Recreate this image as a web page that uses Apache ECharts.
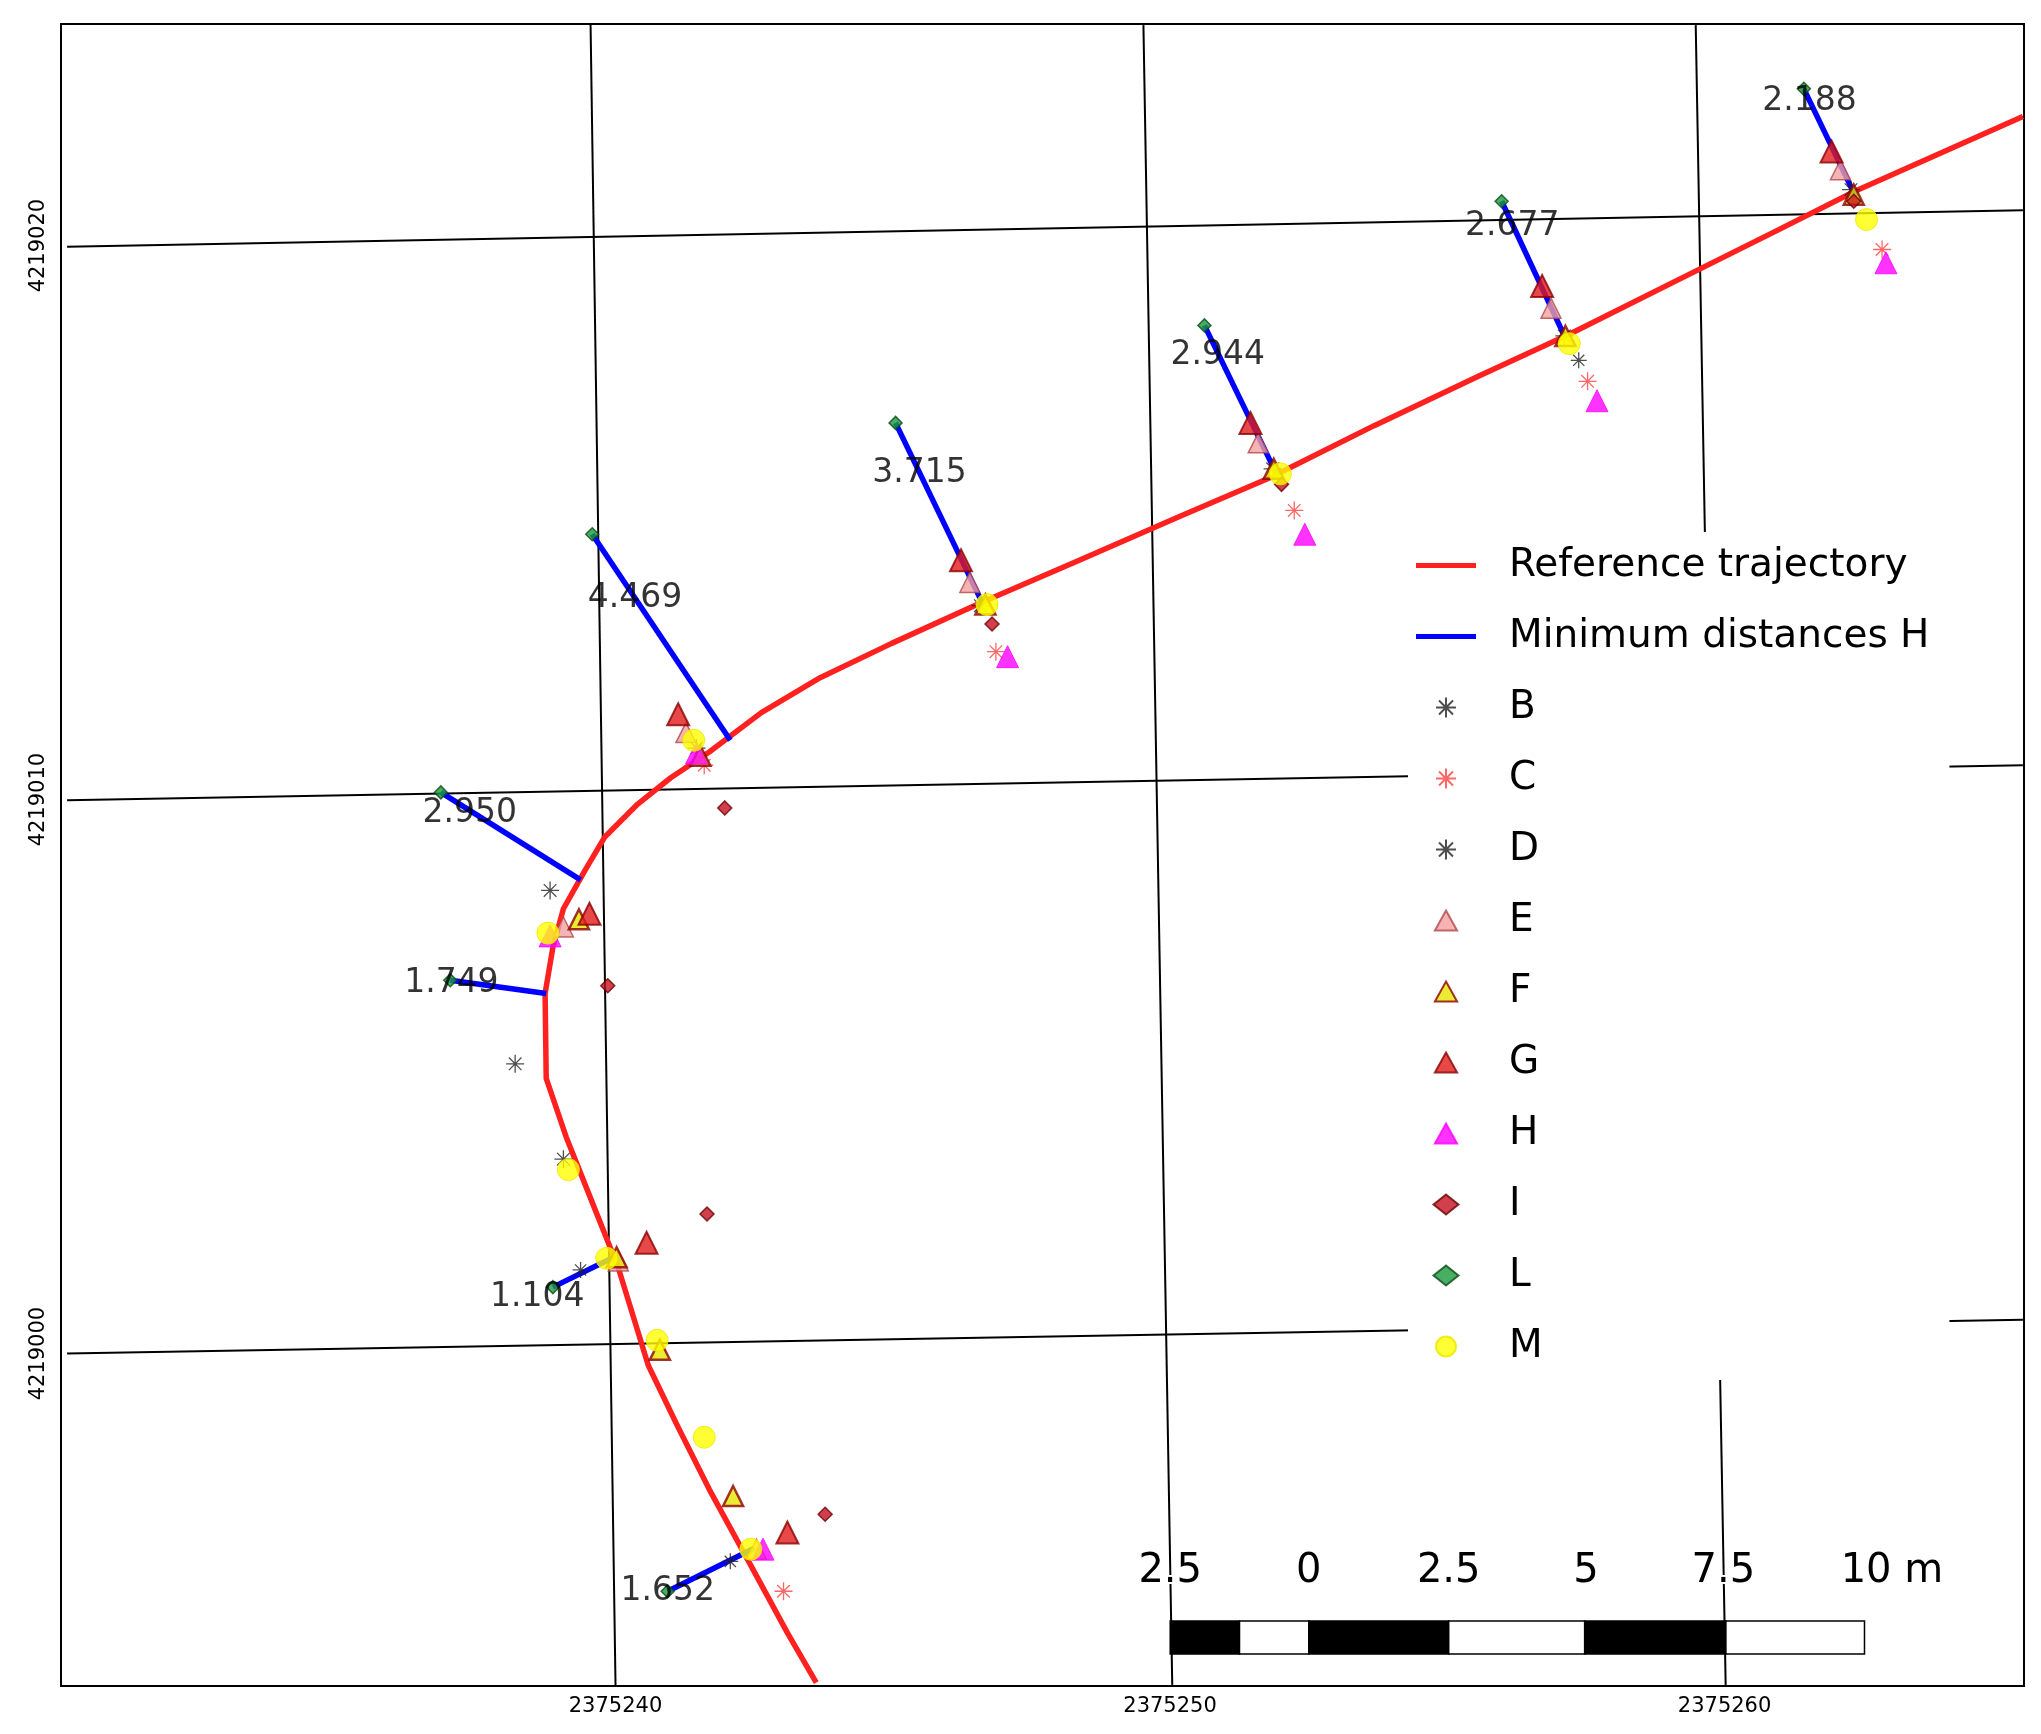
<!DOCTYPE html>
<html>
<head>
<meta charset="utf-8">
<script src="https://cdn.jsdelivr.net/npm/echarts@6/dist/echarts.min.js"></script>
<style>html,body{margin:0;padding:0;background:#fff}#main{width:2041px;height:1734px}</style>
</head>
<body>
<div id="main"></div>
<script>
// local metres relative to the origin below
const X0 = 2375240
const Y0 = 4219000

const trajectory = [[3.62,-5.94],[3.10,-5.04],[2.40,-3.75],[1.69,-2.45],[1.10,-1.27],[0.59,-0.21],[0.05,1.55],[-0.42,2.73],[-0.89,3.91],[-1.25,4.97],[-1.27,6.50],[-1.13,7.33],[-0.94,8.03],[-0.54,8.74],[-0.19,9.33],[0.40,9.92],[0.99,10.39],[1.69,10.86],[2.63,11.57],[3.69,12.20],[4.98,12.82],[6.63,13.57],[8.27,14.28],[10.15,15.10],[11.80,15.81],[13.68,16.75],[15.56,17.64],[17.20,18.40],[19.08,19.34],[20.96,20.28],[22.37,20.99],[25.38,22.33]]

const distStart = [[0.94,-4.29],[-1.13,1.20],[-2.98,6.74],[-3.15,10.13],[-0.42,14.79],[5.05,16.80],[10.62,18.56],[15.98,20.80],[21.43,22.83]]
const distEnd = [[2.51,-3.51],[-0.07,1.72],[-1.25,6.50],[-0.63,8.55],[2.07,11.07],[6.63,13.52],[11.92,15.88],[17.13,18.33],[22.37,20.87]]
const distLabels = ['1.652','1.104','1.749','2.950','4.469','3.715','2.944','2.677','2.188']
const labelPos = [[0.94,-4.29],[-1.41,1.01],[-2.96,6.69],[-2.63,9.75],[0.35,13.64],[5.48,15.88],[10.86,18.02],[16.17,20.35],[21.53,22.61]]

const ptsB = [[1.46,10.93],[-0.94,3.51],[-1.81,5.23],[-1.18,8.36],[6.58,13.50],[11.85,15.97],[17.11,18.37],[22.28,21.01]]
const ptsC = [[1.60,10.62],[3.03,-4.29],[12.24,15.22],[17.53,17.55],[22.84,19.93],[6.86,12.67]]
const ptsD = [[17.37,17.93],[-0.63,1.51],[2.07,-3.75]]
const ptsE = [[1.27,11.21],[-0.94,7.70],[0.05,1.67],[2.54,-3.53],[6.39,13.92],[11.59,16.44],[16.87,18.87],[22.09,21.37]]
const ptsF = [[1.53,10.79],[-0.66,7.84],[0.02,1.74],[0.80,0.07],[2.12,-2.57],[6.67,13.52],[11.87,15.97],[17.13,18.37],[22.33,20.92]]
const ptsG = [[1.13,11.54],[-0.47,7.94],[0.56,2.00],[3.10,-3.23],[6.23,14.32],[11.45,16.80],[16.71,19.27],[21.93,21.70]]
const ptsH = [[-1.18,7.54],[1.46,10.84],[7.07,12.58],[12.43,14.79],[17.70,17.20],[22.91,19.69],[2.66,-3.53]]
const ptsI = [[-0.14,6.64],[1.97,9.85],[1.65,2.52],[3.78,-2.90],[6.79,13.17],[12.01,15.69],[22.33,20.80]]
const ptsL = distStart
const ptsM = [[-0.85,3.32],[0.75,0.24],[1.60,-1.51],[-1.22,7.59],[1.41,11.07],[6.70,13.52],[11.99,15.88],[17.20,18.23],[22.56,20.47],[2.44,-3.53],[-0.16,1.72]]

// projected grid lines (slightly tilted)
const gridLines = [
  [[-0.45,23.98],[0,-5.98]],
  [[9.52,23.98],[10.04,-5.98]],
  [[19.48,23.98],[20.02,-5.98]],
  [[-9.89,19.98],[25.38,20.64]],
  [[-9.89,9.99],[25.38,10.62]],
  [[-9.89,0],[25.38,0.61]]
]

const abs = arr => arr.map(p => [X0 + p[0], Y0 + p[1]])
const FONT = 'DejaVu Sans'
const star = 'path://M0,5L10,5M5,0L5,10M1.5,1.5L8.5,8.5M8.5,1.5L1.5,8.5'
const triIcon = 'path://M5,0L10,9L0,9Z'
const diaIcon = 'path://M5,0L10,4L5,8L0,4Z'
const lineIcon = 'path://M0,0L60,0L60,5L0,5Z'

var chart = echarts.init(document.getElementById('main'))
var series = []

gridLines.forEach(l => {
  series.push({ type: 'line', data: abs(l), symbol: 'none', silent: true,
    lineStyle: { color: '#000', width: 2 }, z: 1 })
})
series.push({ name: 'Reference trajectory', type: 'line', data: abs(trajectory), symbol: 'none',
  lineStyle: { color: '#ff2020', width: 5.5 }, itemStyle: { color: '#ff2020' }, z: 3 })
distStart.forEach((s, i) => {
  series.push({ name: 'Minimum distances H', type: 'line', data: abs([s, distEnd[i]]), symbol: 'none',
    lineStyle: { color: '#0000ff', width: 5.5 }, itemStyle: { color: '#0000ff' }, z: 4 })
})

function pts(name, data, symbol, size, fill, border, bw) {
  series.push({ name: name, type: 'scatter', data: abs(data), symbol: symbol, symbolSize: size,
    itemStyle: { color: fill, borderColor: border, borderWidth: bw }, z: 5 })
}
pts('B', ptsB, star, 18, 'rgba(0,0,0,0)', '#222', 1.3)
pts('C', ptsC, star, 18, 'rgba(0,0,0,0)', '#ff4040', 1.3)
pts('D', ptsD, star, 16, 'rgba(0,0,0,0)', '#222', 1.3)
pts('E', ptsE, 'triangle', 20, '#f4a0a0', '#b04848', 1.5)
pts('F', ptsF, 'triangle', 20, '#e6e600', '#8b0000', 2.5)
pts('G', ptsG, 'triangle', 22, '#e31a1c', '#8b0000', 2)
pts('H', ptsH, 'triangle', 22, '#ff00ff', '#ff00ff', 1)
pts('I', ptsI, 'diamond', 14, '#c81020', '#6b0000', 1.5)
pts('L', ptsL, 'diamond', 13, '#1a9a3a', '#0a4a1a', 1.5)
pts('M', ptsM, 'circle', 22, '#ffff00', '#e8e800', 1)

series.push({ type: 'scatter', data: abs(labelPos).map((p, i) => ({ value: p, name: distLabels[i] })),
  symbolSize: 0, silent: true, z: 6,
  label: { show: true, position: 'inside', formatter: '{b}', color: '#000', fontSize: 33, fontFamily: FONT } })

// scale bar
const s = 1.3075
const barX = [895, 948, 1001, 1108, 1212, 1320, 1426].map(v => v * s)
var graphic = []
for (let i = 0; i < barX.length - 1; i++) {
  graphic.push({ type: 'rect', shape: { x: barX[i], y: 1621, width: barX[i + 1] - barX[i], height: 33 },
    style: { fill: i % 2 == 0 ? '#000' : '#fff', stroke: '#000', lineWidth: 1.5 }, z: 100 })
}
const barLabels = ['2.5', '0', '2.5', '5', '7.5', '10 m']
const barLabelX = [895, 1001, 1108, 1213, 1318, 1447]
barLabels.forEach((t, i) => {
  graphic.push({ type: 'text', x: barLabelX[i] * s, y: 1572,
    style: { text: t, fill: '#000', font: '40px "DejaVu Sans"', align: 'center', verticalAlign: 'middle',
      stroke: '#fff', lineWidth: 4 }, z: 100 })
})

chart.setOption({
  animation: false,
  backgroundColor: '#fff',
  grid: { left: 61, right: 17, top: 24, bottom: 48, show: true, borderColor: '#000', borderWidth: 2, backgroundColor: 'transparent' },
  xAxis: { type: 'value', min: 2375230, max: 2375265.4, interval: 10,
    axisLine: { show: false }, axisTick: { show: false }, splitLine: { show: false },
    axisLabel: { color: '#000', fontSize: 21, fontFamily: FONT, margin: 10, showMinLabel: false,
      formatter: v => (v % 10 == 0 && v > 2375230) ? String(v) : '' } },
  yAxis: { type: 'value', min: 4218994, max: 4219024, interval: 2,
    axisLine: { show: false }, axisTick: { show: false }, splitLine: { show: false },
    axisLabel: { color: '#000', fontSize: 21, fontFamily: FONT, rotate: 90, margin: 12,
      formatter: v => v % 10 == 0 ? String(v) : '' } },
  legend: {
    orient: 'vertical', left: 1408, top: 532, backgroundColor: '#fff', padding: [14, 20, 14, 8],
    itemWidth: 60, itemHeight: 20, itemGap: 32,
    textStyle: { fontSize: 39, fontFamily: FONT, color: '#000', padding: [0, 0, 0, 28] },
    data: [
      { name: 'Reference trajectory', icon: lineIcon },
      { name: 'Minimum distances H', icon: lineIcon },
      { name: 'B', icon: star }, { name: 'C', icon: star }, { name: 'D', icon: star },
      { name: 'E', icon: triIcon }, { name: 'F', icon: triIcon }, { name: 'G', icon: triIcon },
      { name: 'H', icon: triIcon }, { name: 'I', icon: diaIcon }, { name: 'L', icon: diaIcon },
      { name: 'M', icon: 'circle' }
    ]
  },
  graphic: graphic,
  series: series
})
</script>
</body>
</html>
